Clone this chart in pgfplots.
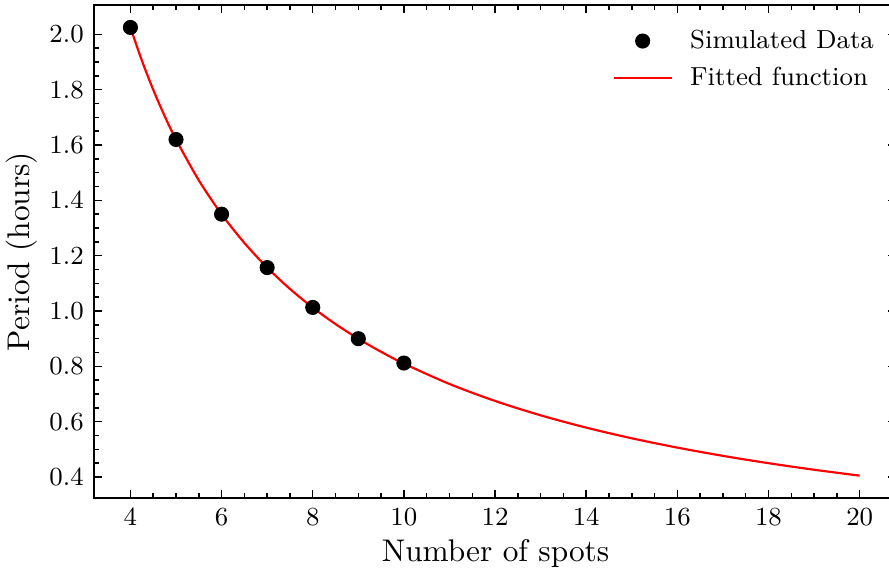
\documentclass[border=0pt]{standalone}
\usepackage{pgfplots}
\pgfplotsset{compat=1.18}
\begin{document}
\begin{tikzpicture}
\begin{axis}[
  scale only axis, width=276.6pt, height=170pt,
  xmin=3.2, xmax=20.8, ymin=0.324, ymax=2.106,
  xtick={4,6,8,10,12,14,16,18,20}, minor x tick num=3,
  ytick={0.4,0.6,0.8,1.0,1.2,1.4,1.6,1.8,2.0}, minor y tick num=3,
  tick align=inside, major tick length=2.8pt, minor tick length=1.6pt,
  tick style={black, line width=0.5pt},
  axis line style={line width=0.5pt},
  yticklabel style={/pgf/number format/fixed, /pgf/number format/fixed zerofill, /pgf/number format/precision=1},
  tick label style={font=\fontsize{9}{10}\selectfont},
  xlabel={Number of spots}, ylabel={Period (hours)},
  label style={font=\fontsize{10.8}{12}\selectfont},
  xlabel style={at={(axis description cs:0.5006,-0.112)}, anchor=center},
  ylabel style={at={(axis description cs:-0.0897,0.5)}, anchor=center},
  legend cell align=left,
  legend style={draw=none, fill=none, inner sep=0pt, font=\fontsize{9}{10}\selectfont,
    at={(axis description cs:0.6458,0.963)}, anchor=north west, row sep=0.9pt, column sep=4pt},
]
\coordinate (BL) at (rel axis cs:0,0);
\addplot[only marks, mark=*, mark size=2.4pt, black,
  legend image code/.code={\draw[mark repeat=2,mark phase=2] plot coordinates {(0pt,0pt) (10pt,0pt) (20pt,0pt)};}] coordinates {
  (4,2.025) (5,1.62) (6,1.35) (7,1.157) (8,1.013) (9,0.90) (10,0.812)
};
\addlegendentry{Simulated Data}
\addplot[red, line width=0.75pt, smooth,
  legend image code/.code={\draw (0pt,0pt) -- (20pt,0pt);}] coordinates {
  (4,2.025) (4.25,1.9059) (4.5,1.8) (4.75,1.7053) (5,1.62) (5.5,1.4727)
  (6,1.35) (6.5,1.2462) (7,1.1571) (7.5,1.08) (8,1.0125) (8.5,0.9529)
  (9,0.9) (9.5,0.8526) (10,0.81) (11,0.7364) (12,0.675) (13,0.6231)
  (14,0.5786) (15,0.54) (16,0.5063) (17,0.4765) (18,0.45) (19,0.4263) (20,0.405)
};
\addlegendentry{Fitted function}
\end{axis}
\pgfresetboundingbox
\path (BL) ++(-32.4pt,-25.5pt) rectangle ++(306.55pt,197.24pt);
\end{tikzpicture}
\end{document}
